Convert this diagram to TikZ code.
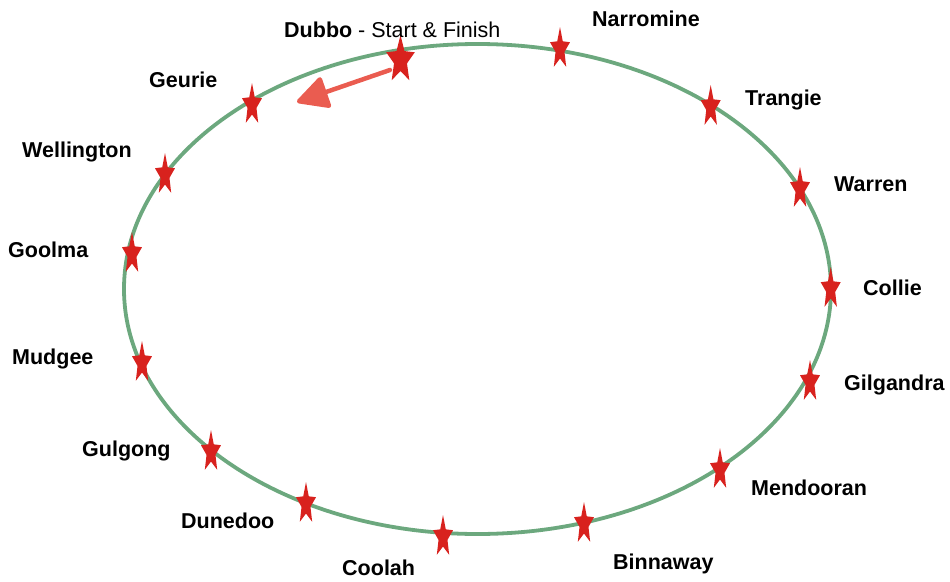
\documentclass[tikz,border=0pt]{standalone}
\usepackage{fontspec}
\setmainfont{Liberation Sans}
\usetikzlibrary{arrows.meta}
\definecolor{trackgreen}{RGB}{108,168,126}
\definecolor{starred}{RGB}{216,34,30}
\definecolor{arrowred}{RGB}{234,92,80}
\tikzset{
  lbl/.style={anchor=base west, inner sep=0pt, font=\fontsize{21.5}{26}\selectfont\bfseries},
  track/.style={draw=trackgreen, line width=3.8pt},
  starfill/.style={fill=starred},
  sketcharrow/.style={draw=arrowred, line width=4.5pt, line cap=round,
    -{Triangle[length=34pt,width=34pt,round]}},
}
\newcommand\PlaceStar[7]{%
  \coordinate (#1) at (#2,#3);
  \begin{scope}[shift={(#2,#3)}]
    \fill[starfill] (-90:#4 and #5) -- (-54:#6 and #7) -- (-18:#4 and #5) -- (18:#6 and #7)
      -- (54:#4 and #5) -- (90:#6 and #7) -- (126:#4 and #5) -- (162:#6 and #7)
      -- (198:#4 and #5) -- (234:#6 and #7) -- cycle;
  \end{scope}}
\newcommand\SmallStar[3]{\PlaceStar{#1}{#2}{#3}{10.5}{22}{4.7}{9.5}}
\begin{document}
\begin{tikzpicture}[x=1pt,y=-1pt]
\useasboundingbox (0,0) rectangle (950,581);
\draw[track] (477.5,289) ellipse [x radius=353.5, y radius=245];

\PlaceStar{dubbo}{400.5}{60}{15}{25}{6.8}{11}
\SmallStar{narromine}{560}{49}
\SmallStar{trangie}{710.7}{107}
\SmallStar{warren}{800}{189}
\SmallStar{collie}{830.7}{289}
\SmallStar{gilgandra}{810}{382}
\SmallStar{mendooran}{720}{470}
\SmallStar{binnaway}{584}{524}
\SmallStar{coolah}{443}{537}
\SmallStar{dunedoo}{306}{504}
\SmallStar{gulgong}{211}{452}
\SmallStar{mudgee}{142}{363}
\SmallStar{goolma}{132}{254}
\SmallStar{wellington}{165}{175}
\SmallStar{geurie}{252}{105}

\coordinate (arrowstart) at (390,70);
\coordinate (arrowtip) at (297,102);
\draw[sketcharrow] (arrowstart) -- (arrowtip);

\node[lbl] (ldubbo) at (284,37) {Dubbo\mdseries\ - Start \& Finish};
\node[lbl] (lnarromine) at (592,26) {Narromine};
\node[lbl] (ltrangie) at (745,105) {Trangie};
\node[lbl] (lwarren) at (834,191) {Warren};
\node[lbl] (lcollie) at (863,295) {Collie};
\node[lbl] (lgilgandra) at (844,390) {Gilgandra};
\node[lbl] (lmendooran) at (751,495) {Mendooran};
\node[lbl] (lbinnaway) at (613,569) {Binnaway};
\node[lbl] (lcoolah) at (342,575) {Coolah};
\node[lbl] (ldunedoo) at (181,528) {Dunedoo};
\node[lbl] (lgulgong) at (82,456) {Gulgong};
\node[lbl] (lmudgee) at (12,364) {Mudgee};
\node[lbl] (lgoolma) at (8,257) {Goolma};
\node[lbl] (lwellington) at (22,157) {Wellington};
\node[lbl] (lgeurie) at (149,87) {Geurie};
\end{tikzpicture}
\end{document}
